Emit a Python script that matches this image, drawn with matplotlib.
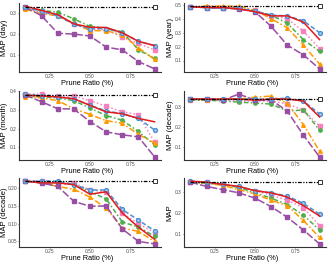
import matplotlib
matplotlib.use("Agg")
import matplotlib.pyplot as plt

plt.rcParams["font.family"] = ["Liberation Sans", "DejaVu Sans"]

ratios = [0.1, 0.2, 0.3, 0.4, 0.5, 0.6, 0.7, 0.8, 0.9]

ylabels = ["MAP (day)", "MAP (year)", "MAP (month)", "MAP (decade)", "MAP (decade)", "MAP"]
yticks = [[0.1, 0.2, 0.3], [0.1, 0.2, 0.3, 0.4, 0.5], [0.1, 0.2, 0.3, 0.4],
          [0.1, 0.2, 0.3], [0.05, 0.10, 0.15, 0.20], [0.1, 0.2, 0.3]]
ytick_labels = [["0.1", "0.2", "0.3"], ["0.1", "0.2", "0.3", "0.4", "0.5"],
                ["0.1", "0.2", "0.3", "0.4"], ["0.1", "0.2", "0.3"],
                ["0.05", "0.10", "0.15", "0.20"], ["0.1", "0.2", "0.3"]]
baseline = [0.328, 0.488, 0.381, 0.338, 0.219, 0.346]

red = [
    [0.33, 0.31, 0.29, 0.247, 0.231, 0.23, 0.205, 0.165, 0.145],
    [0.485, 0.48, 0.48, 0.47, 0.45, 0.42, 0.42, 0.375, 0.25],
    [0.38, 0.375, 0.37, 0.36, 0.325, 0.29, 0.28, 0.255, 0.237],
    [0.34, 0.34, 0.34, 0.34, 0.335, 0.34, 0.34, 0.33, 0.25],
    [0.22, 0.215, 0.215, 0.21, 0.183, 0.19, 0.13, 0.09, 0.056],
    [0.35, 0.345, 0.335, 0.325, 0.305, 0.295, 0.275, 0.235, 0.186],
]
blue = [
    [0.325, 0.305, 0.285, 0.245, 0.225, 0.225, 0.205, 0.165, 0.145],
    [0.485, 0.48, 0.475, 0.475, 0.455, 0.425, 0.42, 0.385, 0.30],
    [0.385, 0.375, 0.37, 0.36, 0.325, 0.295, 0.28, 0.255, 0.193],
    [0.34, 0.34, 0.34, 0.34, 0.34, 0.34, 0.345, 0.33, 0.265],
    [0.22, 0.22, 0.22, 0.21, 0.195, 0.195, 0.14, 0.11, 0.08],
    [0.35, 0.345, 0.335, 0.325, 0.305, 0.295, 0.28, 0.245, 0.195],
]
pink = [
    [0.32, 0.30, 0.29, 0.245, 0.22, 0.22, 0.185, 0.155, 0.125],
    [0.485, 0.485, 0.48, 0.475, 0.46, 0.42, 0.40, 0.31, 0.185],
    [0.385, 0.385, 0.375, 0.375, 0.35, 0.32, 0.29, 0.275, 0.127],
    [0.335, 0.335, 0.335, 0.33, 0.33, 0.33, 0.315, 0.285, 0.204],
    [0.22, 0.22, 0.215, 0.215, 0.195, 0.19, 0.13, 0.10, 0.075],
    [0.345, 0.345, 0.335, 0.32, 0.305, 0.285, 0.26, 0.225, 0.14],
]
green = [
    [0.32, 0.31, 0.302, 0.27, 0.235, 0.225, 0.21, 0.125, 0.085],
    [0.485, 0.48, 0.48, 0.47, 0.455, 0.425, 0.367, 0.25, 0.165],
    [0.375, 0.37, 0.365, 0.35, 0.31, 0.27, 0.245, 0.185, 0.113],
    [0.335, 0.335, 0.33, 0.325, 0.32, 0.315, 0.28, 0.285, 0.184],
    [0.22, 0.215, 0.215, 0.21, 0.19, 0.17, 0.105, 0.09, 0.065],
    [0.345, 0.34, 0.335, 0.32, 0.295, 0.27, 0.24, 0.19, 0.12],
]
orange = [
    [0.315, 0.295, 0.285, 0.25, 0.215, 0.215, 0.195, 0.135, 0.08],
    [0.485, 0.49, 0.49, 0.49, 0.46, 0.40, 0.335, 0.21, 0.075],
    [0.37, 0.365, 0.35, 0.307, 0.276, 0.243, 0.229, 0.17, 0.123],
    [0.34, 0.335, 0.34, 0.34, 0.35, 0.355, 0.32, 0.211, 0.078],
    [0.22, 0.215, 0.205, 0.197, 0.175, 0.144, 0.088, 0.078, 0.05],
    [0.345, 0.34, 0.33, 0.31, 0.29, 0.26, 0.235, 0.165, 0.085],
]
purple = [
    [0.325, 0.285, 0.203, 0.199, 0.19, 0.138, 0.125, 0.07, 0.036],
    [0.485, 0.48, 0.475, 0.47, 0.45, 0.345, 0.21, 0.14, 0.04],
    [0.38, 0.344, 0.307, 0.305, 0.238, 0.183, 0.167, 0.156, 0.049],
    [0.34, 0.34, 0.335, 0.365, 0.335, 0.335, 0.28, 0.158, 0.049],
    [0.22, 0.215, 0.205, 0.163, 0.149, 0.15, 0.085, 0.05, 0.043],
    [0.345, 0.325, 0.31, 0.295, 0.27, 0.23, 0.18, 0.12, 0.055],
]

W, H = 330, 264
fig = plt.figure(figsize=(W / 100, H / 100), dpi=100)
col_left = [19, 184]
ax_w = 142
rows = [(3, 72), (91, 160), (178, 247)]

styles = [
    ("pink", pink, dict(color="#F781BF", ls=(0, (1, 1.5)), marker="s", ms=2.4)),
    ("green", green, dict(color="#4DAF4A", ls=(0, (3, 1.5, 1, 1.5)), marker="o", ms=2.4)),
    ("orange", orange, dict(color="#FF9900", ls=(0, (4, 1.5, 1, 1.5)), marker="^", ms=2.6)),
    ("purple", purple, dict(color="#984EA3", ls=(0, (5, 1.5)), marker="s", ms=2.2)),
    ("blue", blue, dict(color="#4A90D0", ls=(0, (3, 1.5)), marker="o", ms=2.8, mfc="#A9CDEB")),
    ("red", red, dict(color="#E41A1C", ls="-", marker=None)),
]

for i in range(6):
    r, c = divmod(i, 2)
    top, bot = rows[r]
    left = col_left[c]
    h = bot - top
    ax = fig.add_axes([left / W, 1 - bot / H, ax_w / W, h / H])
    for name, data, st in styles:
        ax.plot(ratios, data[i], lw=1.1, **st)
    ax.plot(ratios, [baseline[i]] * len(ratios), color="black", lw=0.9,
            ls=(0, (3, 1.2, 1, 1.2, 1, 1.2)), zorder=5)
    ax.plot([ratios[-1]], [baseline[i]], marker="s", ms=2.8, mfc="white",
            mec="#333333", mew=0.7, color="black", zorder=6)
    allv = [v for _, d, _ in styles for v in d[i]] + [baseline[i]]
    lo, hi = min(allv), max(allv)
    pad = (hi - lo) * 0.05
    ax.set_ylim(lo - pad, hi + pad)
    ax.set_xlim(0.06, 0.94)
    ax.set_xticks([0.25, 0.50, 0.75])
    ax.set_xticklabels(["0.25", "0.50", "0.75"])
    ax.set_yticks(yticks[i])
    ax.set_yticklabels(ytick_labels[i])
    ax.tick_params(labelsize=3.5, colors="#4D4D4D", length=1.0, width=0.5, pad=0.5)
    for s in ["top", "right"]:
        ax.spines[s].set_visible(False)
    for s in ["left", "bottom"]:
        ax.spines[s].set_linewidth(0.8)
        ax.spines[s].set_color("#333333")
    ax.set_xlabel("Prune Ratio (%)", fontsize=5.3)
    ax.xaxis.set_label_coords(0.48, -7.9 / h)
    ax.set_ylabel(ylabels[i], fontsize=5.6, va="center")
    ax.yaxis.set_label_coords(-14.0 / ax_w, 0.5)

fig.savefig("out.png", dpi=100)
